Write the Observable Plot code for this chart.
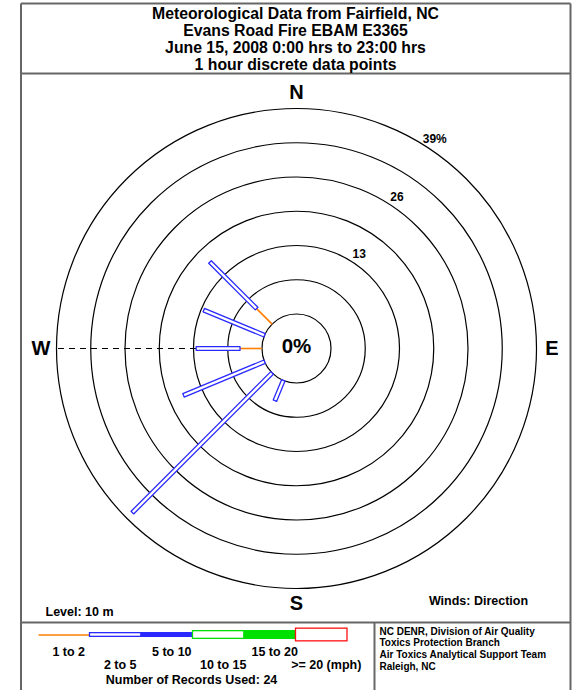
<!DOCTYPE html>
<html><head><meta charset="utf-8">
<script src="https://cdn.jsdelivr.net/npm/d3@7"></script>
<script src="https://cdn.jsdelivr.net/npm/@observablehq/plot@0.6"></script>
<style>body{margin:0;background:#fff}svg{display:block}</style>
</head><body><div id="chart"></div>
<script>
// ---- data ----
const titleLines = ["Meteorological Data from Fairfield, NC","Evans Road Fire EBAM E3365","June 15, 2008 0:00 hrs to 23:00 hrs","1 hour discrete data points"];
const directions = ["NW","WNW","W","WSW","SW","SSW"];
const directionAngles = [315, 292.5, 270, 247.5, 225, 202.5];
// percent of records in each speed class, per direction
const pct1to2   = [4.17, 0, 4.17, 0, 0, 0];
const pct2to5   = [12.5, 12.5, 8.33, 16.67, 37.5, 4.17];
const pct5to10  = [0, 0, 0, 0, 0, 0];
const pct10to15 = [0, 0, 0, 0, 0, 0];
const pct15to20 = [0, 0, 0, 0, 0, 0];
const pctOver20 = [0, 0, 0, 0, 0, 0];
const ringValues = [0, 6.5, 13, 19.5, 26, 32.5, 39];
const ringLabels = ["", "", "13", "", "26", "", "39%"];
const compassLabels = ["N", "E", "S", "W"];
const compassAngles = [0, 90, 180, 270];
const speedClasses = ["1 to 2", "2 to 5", "5 to 10", "10 to 15", "15 to 20", ">= 20 (mph)"];
const recordsUsed = 24;
const levelText = "Level: 10 m";
const windsText = "Winds: Direction";
const creditLines = ["NC DENR, Division of Air Quality","Toxics Protection Branch","Air Toxics Analytical Support Team","Raleigh, NC"];

// ---- styles ----
const classColors = ["#ff8000", "#2a2aff", "#2a2aff", "#00e000", "#00e000", "#ff1010"];
const classFilled = [true, false, true, false, true, false];
const classWidths = [0, 5, 5, 9, 9, 14];
const FONT = "Liberation Sans, Arial, Helvetica, sans-serif";
const CX = 296, CY = 348;           // rose centre in page pixels
const X = px => px - CX, Y = py => CY - py;
const rad = d3.scaleLinear().domain([0, 39]).range([34.5, 240]);
const pol = (r, a) => [r * Math.sin(a * Math.PI / 180), r * Math.cos(a * Math.PI / 180)];

// ---- bars ----
const classPcts = [pct1to2, pct2to5, pct5to10, pct10to15, pct15to20, pctOver20];
const lineSegs = [], polys = [];
directions.forEach((dir, i) => {
  const a = directionAngles[i];
  let cum = 0;
  classPcts.forEach((arr, c) => {
    const v = arr[i];
    if (!v) return;
    const r1 = rad(cum), r2 = rad(cum + v);
    cum += v;
    if (c === 0) {
      const [x1, y1] = pol(r1, a), [x2, y2] = pol(r2, a);
      lineSegs.push({x1, y1, x2, y2, color: classColors[c]});
    } else {
      const h = (classWidths[c] - 1.3) / 2;
      const ux = Math.sin(a * Math.PI / 180), uy = Math.cos(a * Math.PI / 180);
      const nx = uy, ny = -ux;
      const pts = [[r1, h], [r2, h], [r2, -h], [r1, -h], [r1, h]];
      pts.forEach(([r, o]) => polys.push({id: dir + c, x: r * ux + o * nx, y: r * uy + o * ny,
        stroke: classColors[c], fill: classFilled[c] ? classColors[c] : "white"}));
    }
  });
});

// ---- legend ----
const legX0 = 38, legW = 51.5, legY = 634.5;
const legend = speedClasses.map((s, i) => ({
  label: s, i,
  x1: X(legX0 + i * legW), x2: X(legX0 + (i + 1) * legW),
  y1: Y(legY - classWidths[i] / 2 + 0.65), y2: Y(legY + classWidths[i] / 2 - 0.65),
  color: classColors[i], fill: classFilled[i] ? classColors[i] : "white",
  lx: X(legX0 + (i + 0.5) * legW + 4.5), ly: Y(i % 2 === 0 ? 651 : 664)
}));

// ---- frame ----
const frameLines = [
  {x1: X(20.5), y1: Y(3), x2: X(570), y2: Y(3)},
  {x1: X(20.5), y1: Y(3), x2: X(20.5), y2: Y(692)},
  {x1: X(570), y1: Y(3), x2: X(570), y2: Y(692)},
  {x1: X(20.5), y1: Y(73), x2: X(570), y2: Y(73)},
  {x1: X(20.5), y1: Y(622), x2: X(570), y2: Y(622)},
  {x1: X(374), y1: Y(622), x2: X(374), y2: Y(692)}
];

const txt = (data, o) => Plot.text(data, {fontFamily: FONT, fontWeight: "bold", fill: "black", ...o});

const chart = Plot.plot({
  width: 575, height: 690, margin: 0,
  x: {domain: [-CX, 575 - CX], range: [0, 575], axis: null},
  y: {domain: [CY, CY - 690], range: [0, 690], axis: null},
  r: {type: "identity"},
  color: {type: "identity"},
  style: {background: "white", overflow: "visible"},
  marks: [
    Plot.link(frameLines, {x1: "x1", y1: "y1", x2: "x2", y2: "y2", stroke: "#666", strokeWidth: 2}),
    // title
    txt(titleLines, {x: () => X(295), y: (d, i) => Y(13.3 + i * 17.2), text: d => d, fontSize: 15.8}),
    // rings
    Plot.dot(ringValues, {x: () => 0, y: () => 0, r: d => rad(d), stroke: "black", fill: "none", strokeWidth: 1.2}),
    // reference dashed line (west)
    Plot.link([270], {x1: d => pol(rad(0), d)[0], y1: d => pol(rad(0), d)[1], x2: d => pol(rad(39), d)[0], y2: d => pol(rad(39), d)[1],
      stroke: "black", strokeWidth: 1, strokeDasharray: "6,5"}),
    // ring labels
    txt(ringValues.filter((v, i) => ringLabels[i]), {
      x: d => pol(rad(d) + 10.5, 33.5)[0], y: d => pol(rad(d) + 10.5, 33.5)[1],
      text: d => ringLabels[ringValues.indexOf(d)], fontSize: 12}),
    // compass labels
    txt(compassLabels, {x: (d, i) => pol(255.5, compassAngles[i])[0], y: (d, i) => pol(255.5, compassAngles[i])[1], text: d => d, fontSize: 20}),
    // bars
    Plot.link(lineSegs, {x1: "x1", y1: "y1", x2: "x2", y2: "y2", stroke: "color", strokeWidth: 1.6}),
    Plot.line(polys, {x: "x", y: "y", z: "id", stroke: "stroke", fill: "fill", strokeWidth: 1.3, curve: "linear"}),
    // centre label
    txt(["0%"], {x: () => 0, y: () => 2, text: d => d, fontSize: 20.5}),
    // corner labels
    txt([levelText], {x: () => X(45), y: () => Y(611), text: d => d, fontSize: 12.5, textAnchor: "start"}),
    txt([windsText], {x: () => X(478), y: () => Y(600), text: d => d, fontSize: 12.5}),
    // legend
    Plot.link(legend.filter(d => d.i === 0), {x1: "x1", x2: "x2", y1: () => Y(legY), y2: () => Y(legY), stroke: "color", strokeWidth: 1.6}),
    Plot.rect(legend.filter(d => d.i > 0), {x1: "x1", x2: "x2", y1: "y1", y2: "y2", fill: "fill", stroke: "color", strokeWidth: 1.3}),
    txt(legend, {x: "lx", y: "ly", text: "label", fontSize: 12.5}),
    txt([`Number of Records Used: ${recordsUsed}`], {x: () => X(191), y: () => Y(679), text: d => d, fontSize: 12.5}),
    // credits
    txt(creditLines, {x: () => X(379), y: (d, i) => Y(631 + i * 11.6), text: d => d, fontSize: 10, textAnchor: "start"})
  ]
});
document.getElementById("chart").append(chart);
</script>
</body></html>
